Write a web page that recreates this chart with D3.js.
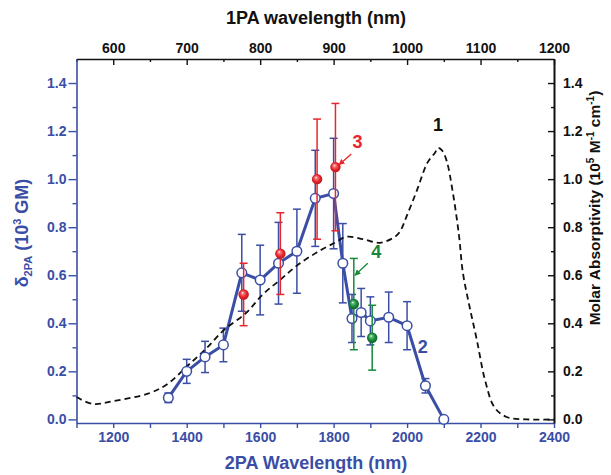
<!DOCTYPE html>
<html lang="en">
<head>
  <meta charset="UTF-8">
  <title>2PA spectrum</title>
  <script src='https://d3js.org/d3.v7.min.js'></script>
  <style>
    body { margin: 0; background: #fff; }
    text { font-family: "Liberation Sans", Arial, sans-serif; font-weight: bold; }
  </style>
</head>
<body>
</body>
<script>
  // curve 2 : 2PA cross section (blue, open circles)
  const wl2 = [1350, 1400, 1450, 1500, 1550, 1600, 1650, 1700, 1750, 1800, 1825, 1850, 1875, 1900, 1950, 2000, 2050, 2100];
  const delta2 = [0.09, 0.20, 0.26, 0.31, 0.61, 0.58, 0.65, 0.70, 0.92, 0.94, 0.65, 0.42, 0.445, 0.41, 0.425, 0.39, 0.14, 0.00];
  const err2 = [0.02, 0.05, 0.065, 0.07, 0.16, 0.145, 0.17, 0.175, 0.2, 0.23, 0.165, 0.1, 0.1, 0.1, 0.105, 0.1, 0.03, 0];

  // curve 3 (red spheres)
  const wl3 = [1555, 1655, 1755, 1805];
  const delta3 = [0.52, 0.69, 1.00, 1.05];
  const err3 = [0.13, 0.17, 0.25, 0.265];

  // curve 4 (green spheres)
  const wl4 = [1855, 1905];
  const delta4 = [0.48, 0.34];
  const err4 = [0.19, 0.135];

  // curve 1 : 1PA absorption, plotted at 2x wavelength (dashed)
  const wl1 = [1100, 1145, 1200, 1300, 1350, 1400, 1450, 1500, 1563, 1607, 1654, 1700, 1754, 1803, 1835, 1880, 1926, 1967, 1980, 2000, 2026, 2056, 2076, 2084, 2095, 2108, 2125, 2141, 2152, 2170, 2190, 2212, 2238, 2271, 2325, 2400];
  const abs1 = [0.093, 0.064, 0.076, 0.11, 0.15, 0.22, 0.29, 0.37, 0.445, 0.52, 0.58, 0.64, 0.695, 0.735, 0.76, 0.75, 0.735, 0.76, 0.78, 0.85, 0.95, 1.07, 1.11, 1.13, 1.12, 1.075, 0.94, 0.77, 0.61, 0.47, 0.33, 0.165, 0.05, 0.01, 0.0, 0.0];

  const xTicks2PA = d3.range(1100, 2401, 100);
  const xTicks1PA = d3.range(550, 1201, 50);
  const yTicks = d3.range(0, 15).map(i => i / 10);

  const blue = '#3a4ea6', red = '#e8262c', green = '#17883a';
  const width = 611, height = 475;
  const mLeft = 76.5, mRight = 554, mTop = 59, mBottom = 423;

  const svg = d3.select('body').append('svg').attr('width', width).attr('height', height);

  const x = d3.scaleLinear().domain([1100, 2400]).range([mLeft, mRight]);
  const xTop = d3.scaleLinear().domain([550, 1200]).range([mLeft, mRight]);
  const y = d3.scaleLinear().domain([-0.015, 1.5]).range([mBottom, mTop]);

  // gradients for the spheres
  const defs = svg.append('defs');
  function sphere(id, light, base, dark) {
    const g = defs.append('radialGradient').attr('id', id)
      .attr('cx', '50%').attr('cy', '50%').attr('r', '55%').attr('fx', '38%').attr('fy', '32%');
    g.append('stop').attr('offset', '0%').attr('stop-color', '#fff');
    g.append('stop').attr('offset', '22%').attr('stop-color', light);
    g.append('stop').attr('offset', '60%').attr('stop-color', base);
    g.append('stop').attr('offset', '100%').attr('stop-color', dark);
  }
  sphere('gRed', '#f67a7c', red, '#b0141a');
  sphere('gGreen', '#5cbf78', green, '#0b5a24');

  function arrowHead(id, col) {
    defs.append('marker').attr('id', id).attr('viewBox', '0 0 10 10')
      .attr('refX', 9).attr('refY', 5).attr('markerWidth', 6).attr('markerHeight', 6)
      .attr('orient', 'auto').attr('markerUnits', 'userSpaceOnUse')
      .append('path').attr('d', 'M0,0 L10,5 L0,10 z').attr('fill', col);
  }
  arrowHead('aRed', red);
  arrowHead('aGreen', green);

  // axes
  const fmtY = d3.format('.1f');
  const gBottom = svg.append('g').attr('transform', `translate(0,${mBottom})`)
    .call(d3.axisBottom(x).tickValues(xTicks2PA).tickSize(5).tickSizeOuter(0)
      .tickFormat(d => d % 200 === 0 ? d : ''));
  const gTop = svg.append('g').attr('transform', `translate(0,${mTop})`)
    .call(d3.axisTop(xTop).tickValues(xTicks1PA).tickSize(-6).tickSizeOuter(0)
      .tickFormat(d => d % 100 === 0 && d > 550 ? d : ''));
  const gLeft = svg.append('g').attr('transform', `translate(${mLeft},0)`)
    .call(d3.axisLeft(y).tickValues(yTicks).tickSize(8).tickSizeOuter(0)
      .tickFormat(d => Math.round(d * 10) % 2 === 0 ? fmtY(d) : ''));
  const gRight = svg.append('g').attr('transform', `translate(${mRight},0)`)
    .call(d3.axisRight(y).tickValues(yTicks).tickSize(-6).tickSizeOuter(0)
      .tickFormat(d => Math.round(d * 10) % 2 === 0 ? fmtY(d) : ''));

  function styleAxis(g, col) {
    g.attr('font-family', null);
    g.select('.domain').attr('stroke', col).attr('stroke-width', 1.6);
    g.selectAll('.tick line').attr('stroke', col).attr('stroke-width', 1.4);
    g.selectAll('.tick text').attr('fill', col).attr('font-size', 14);
  }
  styleAxis(gBottom, blue);
  styleAxis(gTop, '#111');
  styleAxis(gLeft, blue);
  styleAxis(gRight, '#111');

  // minor ticks shorter
  gLeft.selectAll('.tick').filter(d => Math.round(d * 10) % 2 !== 0).select('line').attr('x2', -4);
  gRight.selectAll('.tick').filter(d => Math.round(d * 10) % 2 !== 0).select('line').attr('x2', -3);
  gTop.selectAll('.tick').filter(d => d % 100 !== 0).select('line').attr('y2', 3);
  gBottom.selectAll('.tick text').attr('dy', '0.9em').attr('y', 6);
  gTop.selectAll('.tick text').attr('y', -6);
  gLeft.selectAll('.tick text').attr('x', -10);
  gRight.selectAll('.tick text').attr('x', 9);
  gRight.select('.domain').attr('stroke-width', 2);

  // axis titles
  svg.append('text').attr('x', 316).attr('y', 24).attr('text-anchor', 'middle')
    .attr('font-size', 18).attr('fill', '#111').text('1PA wavelength (nm)');
  svg.append('text').attr('x', 316).attr('y', 469).attr('text-anchor', 'middle')
    .attr('font-size', 18).attr('fill', blue).text('2PA Wavelength (nm)');

  const lt = svg.append('text').attr('transform', 'translate(28,233) rotate(-90)')
    .attr('text-anchor', 'middle').attr('font-size', 18).attr('fill', blue);
  lt.append('tspan').text('δ');
  lt.append('tspan').attr('font-size', 11).attr('dy', 4).text('2PA');
  lt.append('tspan').attr('dy', -4).text(' (10');
  lt.append('tspan').attr('font-size', 11).attr('dy', -7).text('3');
  lt.append('tspan').attr('dy', 7).text(' GM)');

  const rt = svg.append('text').attr('transform', 'translate(600,208) rotate(-90)')
    .attr('text-anchor', 'middle').attr('font-size', 15.5).attr('fill', '#111');
  rt.append('tspan').text('Molar Absorptivity (10');
  rt.append('tspan').attr('font-size', 10).attr('dy', -6).text('5');
  rt.append('tspan').attr('dy', 6).text(' M');
  rt.append('tspan').attr('font-size', 10).attr('dy', -6).text('-1');
  rt.append('tspan').attr('dy', 6).text(' cm');
  rt.append('tspan').attr('font-size', 10).attr('dy', -6).text('-1');
  rt.append('tspan').attr('dy', 6).text(')');

  // error bars
  function errorBars(wl, val, err, col) {
    const g = svg.append('g').attr('stroke', col).attr('stroke-width', 1.5).attr('fill', 'none');
    wl.forEach((w, i) => {
      if (!err[i]) return;
      const cx = x(w), y1 = y(val[i] + err[i]), y2 = y(val[i] - err[i]);
      g.append('line').attr('x1', cx).attr('x2', cx).attr('y1', y1).attr('y2', y2);
      g.append('line').attr('x1', cx - 4).attr('x2', cx + 4).attr('y1', y1).attr('y2', y1);
      g.append('line').attr('x1', cx - 4).attr('x2', cx + 4).attr('y1', y2).attr('y2', y2);
    });
  }
  errorBars(wl2, delta2, err2, blue);

  const line = d3.line().x(d => x(d[0])).y(d => y(d[1]));
  svg.append('path').datum(wl2.map((w, i) => [w, delta2[i]]))
    .attr('d', line).attr('fill', 'none').attr('stroke', blue).attr('stroke-width', 3)
    .attr('stroke-linejoin', 'round');

  // dashed absorption curve
  const curve = d3.line().x(d => x(d[0])).y(d => y(d[1])).curve(d3.curveCatmullRom);
  svg.append('path').datum(wl1.map((w, i) => [w, abs1[i]]))
    .attr('d', curve).attr('fill', 'none').attr('stroke', '#111').attr('stroke-width', 1.8)
    .attr('stroke-dasharray', '6,4');

  svg.append('g').selectAll('circle')
    .data(wl2.map((w, i) => [w, delta2[i]]))
    .join('circle')
    .attr('cx', d => x(d[0])).attr('cy', d => y(d[1])).attr('r', 4.8)
    .attr('fill', '#fff').attr('stroke', blue).attr('stroke-width', 1.5);

  errorBars(wl3, delta3, err3, red);
  errorBars(wl4, delta4, err4, green);

  svg.append('g').selectAll('circle')
    .data(wl3.map((w, i) => [w, delta3[i]]))
    .join('circle')
    .attr('cx', d => x(d[0])).attr('cy', d => y(d[1])).attr('r', 5.2)
    .attr('fill', 'url(#gRed)');
  svg.append('g').selectAll('circle')
    .data(wl4.map((w, i) => [w, delta4[i]]))
    .join('circle')
    .attr('cx', d => x(d[0])).attr('cy', d => y(d[1])).attr('r', 5.2)
    .attr('fill', 'url(#gGreen)');

  // curve labels and arrows
  const labels = [
    {t: '1', col: '#111', px: 2084, v: 1.2},
    {t: '3', col: red, px: 1865, v: 1.13},
    {t: '4', col: green, px: 1916, v: 0.67},
    {t: '2', col: blue, px: 2043, v: 0.275},
  ];
  svg.append('g').selectAll('text').data(labels).join('text')
    .attr('x', d => x(d.px)).attr('y', d => y(d.v)).attr('text-anchor', 'middle')
    .attr('font-size', 18).attr('fill', d => d.col).text(d => d.t);

  svg.append('line').attr('x1', x(1848)).attr('y1', y(1.105)).attr('x2', x(1815)).attr('y2', y(1.06))
    .attr('stroke', red).attr('stroke-width', 1.3).attr('marker-end', 'url(#aRed)');
  svg.append('line').attr('x1', x(1893)).attr('y1', y(0.65)).attr('x2', x(1858)).attr('y2', y(0.6))
    .attr('stroke', green).attr('stroke-width', 1.3).attr('marker-end', 'url(#aGreen)');

  console.log('ready..');
</script>
</html>
